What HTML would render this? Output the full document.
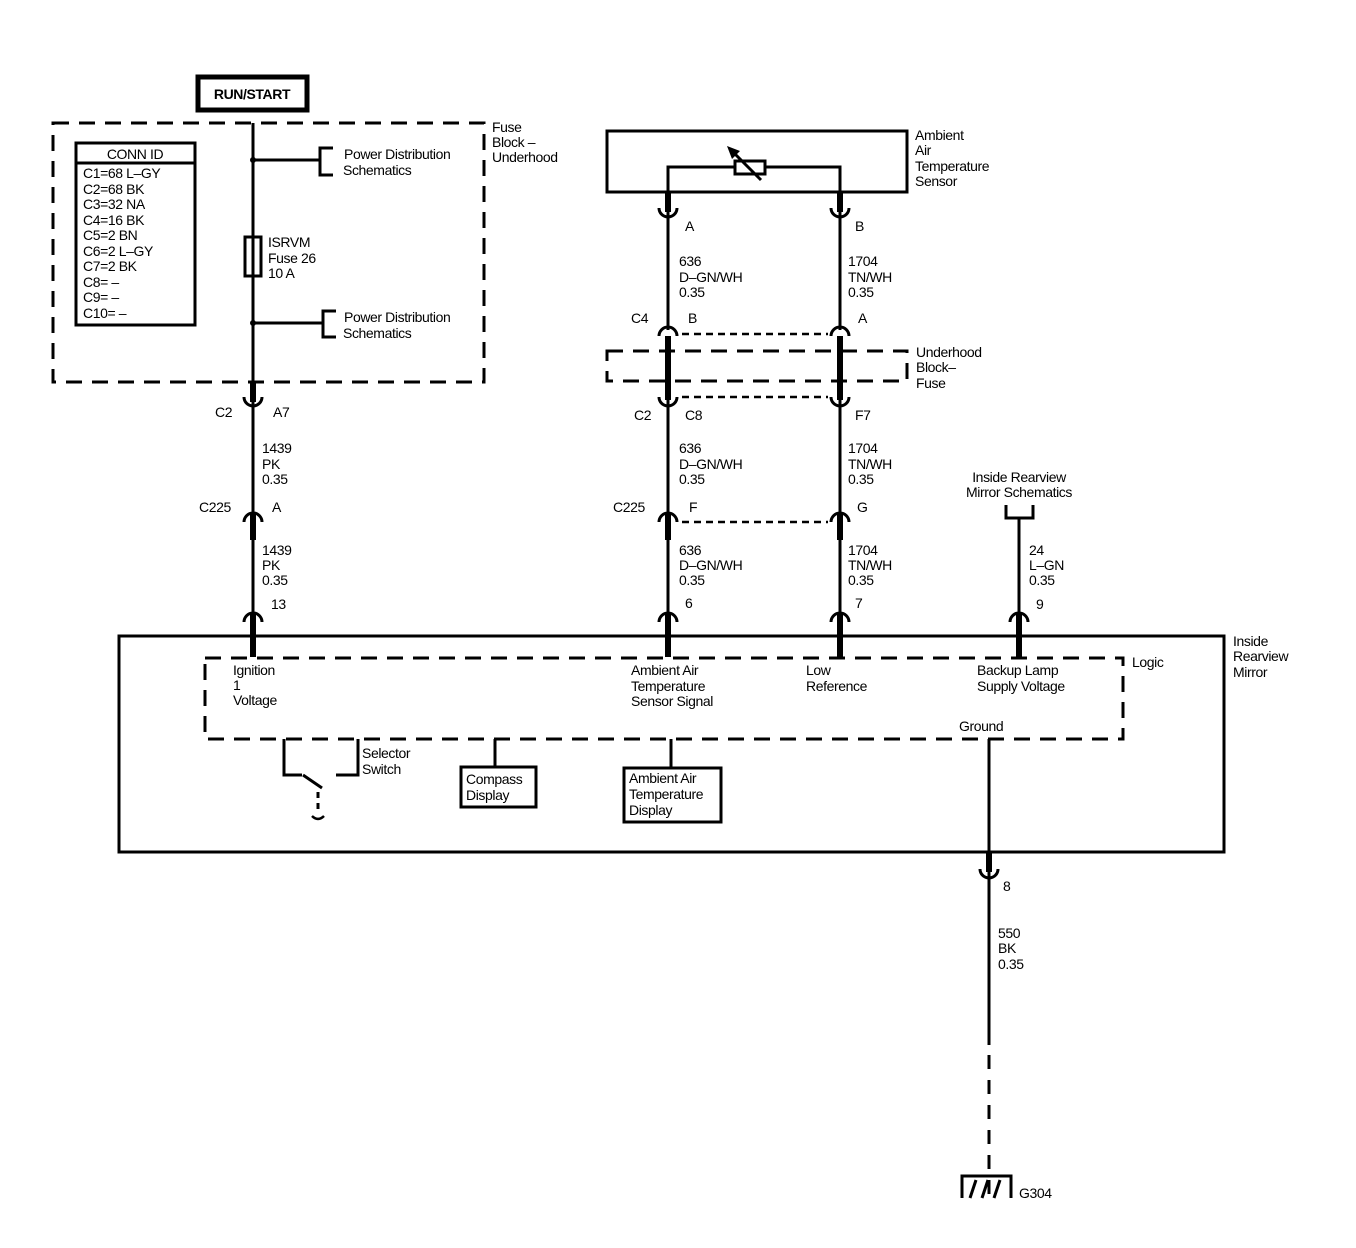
<!DOCTYPE html>
<html><head><meta charset="utf-8"><style>
html,body{margin:0;padding:0;background:#fff;}
svg{display:block;}
text{font-family:"Liberation Sans",Arial,sans-serif;font-size:14px;fill:#000;letter-spacing:-0.4px;}
</style></head><body>
<svg width="1356" height="1248" viewBox="0 0 1356 1248" xmlns="http://www.w3.org/2000/svg">
<g fill="none" stroke="#000" stroke-width="3">
<rect x="198" y="77" width="109" height="33" stroke-width="5"/>
<rect x="53" y="123" width="431" height="259" stroke-dasharray="16,10"/>
<rect x="76" y="143" width="119" height="182"/>
<line x1="76" y1="163" x2="195" y2="163"/>
<line x1="253" y1="123" x2="253" y2="392"/>
<line x1="253" y1="160" x2="320" y2="160"/>
<polyline points="333,148 320,148 320,175 333,175"/>
<line x1="253" y1="323" x2="323" y2="323"/>
<polyline points="336,311 323,311 323,337 336,337"/>
<rect x="245" y="237" width="16" height="39"/>
<line x1="253" y1="382" x2="253" y2="402" stroke-width="6"/>
<path d="M244,397 A9,9 0 0 0 262,397"/>
<line x1="253" y1="402" x2="253" y2="512"/>
<path d="M244,522 A9,9 0 0 1 262,522"/>
<line x1="253" y1="514" x2="253" y2="540" stroke-width="6"/>
<line x1="253" y1="540" x2="253" y2="614"/>
<path d="M244,622 A9,9 0 0 1 262,622"/>
<line x1="253" y1="614" x2="253" y2="657" stroke-width="6"/>

<rect x="607" y="131" width="300" height="61"/>
<polyline points="668,192 668,167 735,167"/>
<polyline points="765,167 840,167 840,192"/>
<rect x="735" y="161" width="30" height="13"/>
<line x1="761" y1="180" x2="733" y2="152"/>
<line x1="668" y1="192" x2="668" y2="212" stroke-width="6"/>
<path d="M659,208 A9,9 0 0 0 677,208"/>
<line x1="668" y1="212" x2="668" y2="330"/>
<path d="M659,336 A9,9 0 0 1 677,336"/>
<line x1="668" y1="336" x2="668" y2="400" stroke-width="6"/>
<path d="M659,397 A9,9 0 0 0 677,397"/>
<line x1="668" y1="400" x2="668" y2="512"/>
<path d="M659,522 A9,9 0 0 1 677,522"/>
<line x1="668" y1="514" x2="668" y2="540" stroke-width="6"/>
<line x1="668" y1="540" x2="668" y2="614"/>
<path d="M659,622 A9,9 0 0 1 677,622"/>
<line x1="668" y1="614" x2="668" y2="657" stroke-width="6"/>
<line x1="840" y1="192" x2="840" y2="212" stroke-width="6"/>
<path d="M831,208 A9,9 0 0 0 849,208"/>
<line x1="840" y1="212" x2="840" y2="330"/>
<path d="M831,336 A9,9 0 0 1 849,336"/>
<line x1="840" y1="336" x2="840" y2="400" stroke-width="6"/>
<path d="M831,397 A9,9 0 0 0 849,397"/>
<line x1="840" y1="400" x2="840" y2="512"/>
<path d="M831,522 A9,9 0 0 1 849,522"/>
<line x1="840" y1="514" x2="840" y2="540" stroke-width="6"/>
<line x1="840" y1="540" x2="840" y2="614"/>
<path d="M831,622 A9,9 0 0 1 849,622"/>
<line x1="840" y1="614" x2="840" y2="657" stroke-width="6"/>
<line x1="682" y1="334" x2="828" y2="334" stroke-dasharray="7,5" stroke-width="2.5"/>
<line x1="682" y1="397" x2="828" y2="397" stroke-dasharray="7,5" stroke-width="2.5"/>
<line x1="682" y1="522" x2="828" y2="522" stroke-dasharray="7,5" stroke-width="2.5"/>
<rect x="607" y="351" width="300" height="30" stroke-dasharray="16,10"/>

<polyline points="1006,505 1006,518 1033,518 1033,505"/>
<line x1="1019" y1="518" x2="1019" y2="614"/>
<path d="M1010,622 A9,9 0 0 1 1028,622"/>
<line x1="1019" y1="614" x2="1019" y2="657" stroke-width="6"/>

<rect x="119" y="636" width="1105" height="216"/>
<rect x="205" y="658" width="918" height="81" stroke-dasharray="16,10"/>
<polyline points="284,739 284,775 302,775"/>
<line x1="303" y1="775" x2="322" y2="788"/>
<polyline points="358,739 358,775 336,775"/>
<line x1="318" y1="792" x2="318" y2="814" stroke-dasharray="6,5"/>
<path d="M312,816 Q318,822 324,816" stroke-width="2.5"/>
<line x1="495" y1="739" x2="495" y2="767"/>
<rect x="461" y="767" width="75" height="40"/>
<line x1="671" y1="739" x2="671" y2="768"/>
<rect x="624" y="768" width="97" height="54"/>
<line x1="989" y1="739" x2="989" y2="872" />
<line x1="989" y1="852" x2="989" y2="872" stroke-width="6"/>
<path d="M980,869 A9,9 0 0 0 998,869"/>
<line x1="989" y1="872" x2="989" y2="1045"/>
<line x1="989" y1="1055" x2="989" y2="1196" stroke-dasharray="14,11" stroke-width="3"/>
<polyline points="962,1198 962,1176 1011,1176 1011,1198"/>
<line x1="970" y1="1198" x2="976" y2="1180"/>
<line x1="982" y1="1198" x2="988" y2="1180"/>
<line x1="994" y1="1198" x2="1000" y2="1180"/>
</g>
<circle cx="253" cy="160" r="3"/><circle cx="253" cy="323" r="3"/>
<polygon points="727,146 740,151 732,159"/>

<text x="252" y="99" text-anchor="middle" font-weight="bold">RUN/START</text>
<text x="492" y="132">Fuse</text><text x="492" y="147">Block –</text><text x="492" y="162">Underhood</text>
<text x="135" y="159" text-anchor="middle">CONN ID</text>
<text x="83" y="178">C1=68 L–GY</text><text x="83" y="194">C2=68 BK</text><text x="83" y="209">C3=32 NA</text>
<text x="83" y="225">C4=16 BK</text><text x="83" y="240">C5=2 BN</text><text x="83" y="256">C6=2 L–GY</text>
<text x="83" y="271">C7=2 BK</text><text x="83" y="287">C8= –</text><text x="83" y="302">C9= –</text><text x="83" y="318">C10= –</text>
<text x="344" y="159">Power Distribution</text><text x="343" y="175">Schematics</text>
<text x="344" y="322">Power Distribution</text><text x="343" y="338">Schematics</text>
<text x="268" y="247">ISRVM</text><text x="268" y="263">Fuse 26</text><text x="268" y="278">10 A</text>
<text x="215" y="417">C2</text><text x="273" y="417">A7</text>
<text x="262" y="453">1439</text><text x="262" y="469">PK</text><text x="262" y="484">0.35</text>
<text x="199" y="512">C225</text><text x="272" y="512">A</text>
<text x="262" y="555">1439</text><text x="262" y="570">PK</text><text x="262" y="585">0.35</text>
<text x="271" y="609">13</text>

<text x="915" y="140">Ambient</text><text x="915" y="155">Air</text><text x="915" y="171">Temperature</text><text x="915" y="186">Sensor</text>
<text x="685" y="231">A</text><text x="855" y="231">B</text>
<text x="679" y="266">636</text><text x="679" y="282">D–GN/WH</text><text x="679" y="297">0.35</text>
<text x="848" y="266">1704</text><text x="848" y="282">TN/WH</text><text x="848" y="297">0.35</text>
<text x="631" y="323">C4</text><text x="688" y="323">B</text><text x="858" y="323">A</text>
<text x="916" y="357">Underhood</text><text x="916" y="372">Block–</text><text x="916" y="388">Fuse</text>
<text x="634" y="420">C2</text><text x="685" y="420">C8</text><text x="855" y="420">F7</text>
<text x="679" y="453">636</text><text x="679" y="469">D–GN/WH</text><text x="679" y="484">0.35</text>
<text x="848" y="453">1704</text><text x="848" y="469">TN/WH</text><text x="848" y="484">0.35</text>
<text x="613" y="512">C225</text><text x="689" y="512">F</text><text x="857" y="512">G</text>
<text x="679" y="555">636</text><text x="679" y="570">D–GN/WH</text><text x="679" y="585">0.35</text>
<text x="848" y="555">1704</text><text x="848" y="570">TN/WH</text><text x="848" y="585">0.35</text>
<text x="685" y="608">6</text><text x="855" y="608">7</text>
<text x="1019" y="482" text-anchor="middle">Inside Rearview</text><text x="1019" y="497" text-anchor="middle">Mirror Schematics</text>
<text x="1029" y="555">24</text><text x="1029" y="570">L–GN</text><text x="1029" y="585">0.35</text>
<text x="1036" y="609">9</text>
<text x="1233" y="646">Inside</text><text x="1233" y="661">Rearview</text><text x="1233" y="677">Mirror</text>
<text x="1132" y="667">Logic</text>
<text x="233" y="675">Ignition</text><text x="233" y="690">1</text><text x="233" y="705">Voltage</text>
<text x="631" y="675">Ambient Air</text><text x="631" y="691">Temperature</text><text x="631" y="706">Sensor Signal</text>
<text x="806" y="675">Low</text><text x="806" y="691">Reference</text>
<text x="977" y="675">Backup Lamp</text><text x="977" y="691">Supply Voltage</text>
<text x="959" y="731">Ground</text>
<text x="362" y="758">Selector</text><text x="362" y="774">Switch</text>
<text x="466" y="784">Compass</text><text x="466" y="800">Display</text>
<text x="629" y="783">Ambient Air</text><text x="629" y="799">Temperature</text><text x="629" y="815">Display</text>
<text x="1003" y="891">8</text>
<text x="998" y="938">550</text><text x="998" y="953">BK</text><text x="998" y="969">0.35</text>
<text x="1019" y="1198">G304</text>
</svg>
</body></html>
